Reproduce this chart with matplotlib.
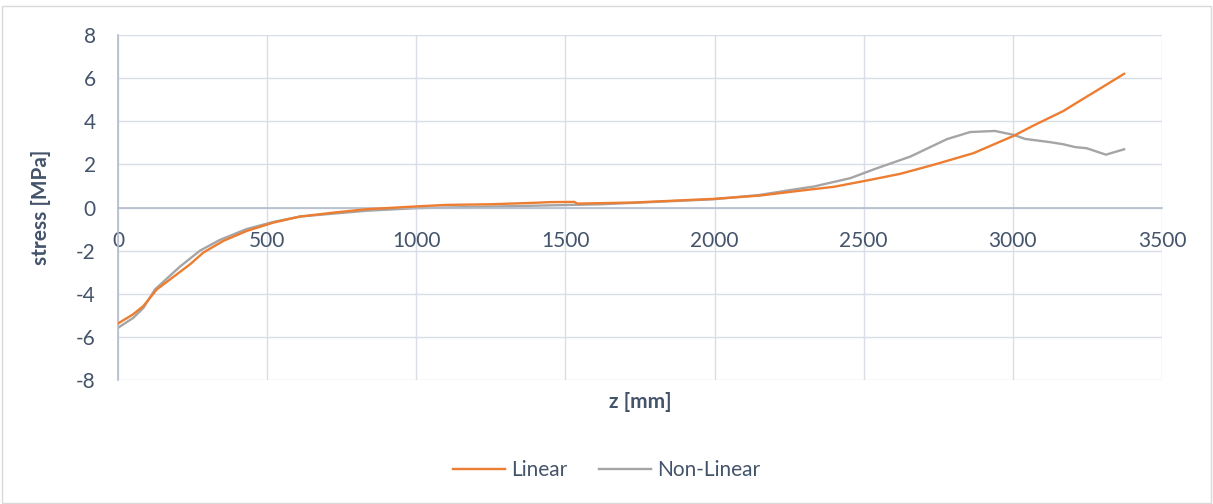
import matplotlib
matplotlib.use("Agg")
import matplotlib.pyplot as plt
from matplotlib.patches import Rectangle

plt.rcParams['font.family'] = ['Lato', 'DejaVu Sans']
plt.rcParams['axes.unicode_minus'] = False

# Stress profiles along z
z_linear = [0, 50, 85, 130, 197, 242, 286, 353, 431, 521, 610, 721, 833, 1000,
            1100, 1250, 1400, 1450, 1530, 1540, 1728, 1996, 2150, 2287, 2400,
            2510, 2622, 2734, 2868, 3002, 3069, 3170, 3225, 3300, 3373]
s_linear = [-5.38, -4.96, -4.57, -3.80, -3.10, -2.63, -2.09, -1.55, -1.09, -0.70,
            -0.42, -0.24, -0.08, 0.05, 0.12, 0.15, 0.22, 0.25, 0.26, 0.18, 0.23,
            0.40, 0.55, 0.78, 0.96, 1.25, 1.56, 1.98, 2.52, 3.32, 3.80, 4.48,
            4.95, 5.58, 6.20]

z_nonlinear = [0, 51, 85, 124, 207, 275, 342, 431, 521, 610, 833, 1000, 1280,
               1621, 1996, 2150, 2287, 2332, 2455, 2544, 2656, 2779, 2857, 2940,
               3002, 3041, 3125, 3170, 3209, 3247, 3312, 3373]
s_nonlinear = [-5.58, -5.12, -4.66, -3.80, -2.75, -2.00, -1.50, -1.00, -0.67,
               -0.42, -0.15, -0.03, 0.05, 0.15, 0.38, 0.58, 0.88, 0.97, 1.36,
               1.82, 2.36, 3.17, 3.50, 3.55, 3.37, 3.18, 3.03, 2.93, 2.80, 2.75,
               2.45, 2.70]

x_ticks = [0, 500, 1000, 1500, 2000, 2500, 3000, 3500]
y_ticks = [-8, -6, -4, -2, 0, 2, 4, 6, 8]

text_color = '#44546a'
grid_color = '#d9dde6'
axis_color = '#b4bccc'
fs = 15

fig = plt.figure(figsize=(12.13, 5.04), dpi=100)
fig.patches.append(Rectangle((0.002, 0.002), 0.996, 0.986, transform=fig.transFigure,
                             fill=False, edgecolor='#d9d9d9', linewidth=1.0))

ax = fig.add_axes([118 / 1213, 1 - 380 / 504, 1044 / 1213, 345 / 504])
ax.plot(z_linear, s_linear, color='#ed7d31', linewidth=1.7, label='Linear', zorder=3)
ax.plot(z_nonlinear, s_nonlinear, color='#a5a5a5', linewidth=1.7, label='Non-Linear', zorder=2)

ax.set_xlim(0, 3500)
ax.set_ylim(-8, 8)
ax.set_xticks(x_ticks)
ax.set_yticks(y_ticks)
ax.set_xticklabels([str(v) for v in x_ticks])
ax.set_yticklabels([str(v) for v in y_ticks])

ax.grid(True, color=grid_color, linewidth=1.0, zorder=0)
ax.set_axisbelow(True)

for side in ('top', 'right'):
    ax.spines[side].set_visible(False)
ax.spines['bottom'].set_position(('data', 0))
ax.spines['bottom'].set_color(axis_color)
ax.spines['bottom'].set_linewidth(1.2)
ax.spines['left'].set_color(axis_color)
ax.spines['left'].set_linewidth(1.2)

ax.tick_params(axis='x', length=0, pad=17, labelsize=fs, labelcolor=text_color)
ax.tick_params(axis='y', length=0, pad=16, labelsize=fs, labelcolor=text_color)

ax.set_xlabel('z [mm]', fontsize=fs, fontweight='bold', color=text_color)
ax.set_ylabel('stress [MPa]', fontsize=fs, fontweight='bold', color=text_color)
ax.xaxis.set_label_coords(0.5, -0.036)
ax.yaxis.set_label_coords(-0.064, 0.5)

fig.legend(loc='center', bbox_to_anchor=(0.5, 1 - 470 / 504), ncol=2, frameon=False,
           fontsize=fs, labelcolor=text_color, handlelength=2.5, handletextpad=0.3,
           columnspacing=1.5)

fig.savefig('out.png', dpi=100)
